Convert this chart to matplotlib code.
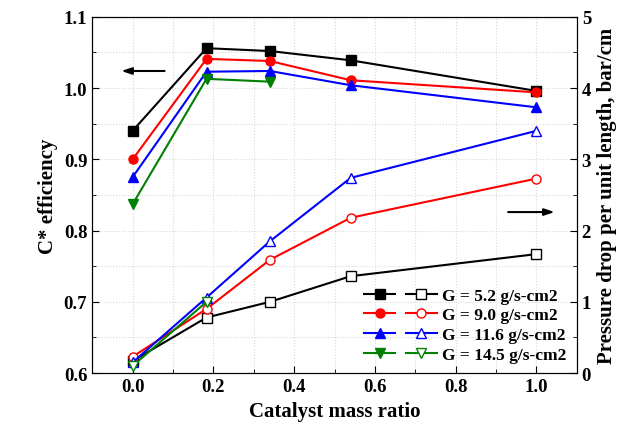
import matplotlib
matplotlib.use('Agg')
import matplotlib.pyplot as plt
from matplotlib.legend_handler import HandlerTuple
from matplotlib.ticker import MultipleLocator

plt.rcParams['font.family'] = 'Liberation Serif'
plt.rcParams['font.weight'] = 'bold'

# Catalyst mass ratio positions
x = [0.0, 0.183, 0.34, 0.54, 1.0]

# C* efficiency (left axis, filled markers)
eff_52 = [0.940, 1.056, 1.052, 1.039, 0.996]
eff_90 = [0.900, 1.041, 1.038, 1.011, 0.994]
eff_116 = [0.875, 1.023, 1.024, 1.004, 0.973]
eff_145 = [0.837, 1.013, 1.009]

# Pressure drop per unit length (right axis, open markers)
dp_52 = [0.17, 0.78, 1.00, 1.36, 1.67]
dp_90 = [0.23, 0.90, 1.59, 2.18, 2.73]
dp_116 = [0.15, 1.06, 1.85, 2.74, 3.40]
dp_145 = [0.10, 1.00]

labels = ['G = 5.2 g/s-cm2', 'G = 9.0 g/s-cm2', 'G = 11.6 g/s-cm2', 'G = 14.5 g/s-cm2']
colors = ['black', 'red', 'blue', 'green']
markers = ['s', 'o', '^', 'v']

fig = plt.figure(figsize=(6.36, 4.35), dpi=100)
ax = fig.add_axes([0.145, 0.140, 0.762, 0.819])
ax2 = ax.twinx()

eff = [eff_52, eff_90, eff_116, eff_145]
dp = [dp_52, dp_90, dp_116, dp_145]

handles = []
for e, d, c, m in zip(eff, dp, colors, markers):
    h1, = ax.plot(x[:len(e)], e, color=c, marker=m, ms=6.5, lw=1.5, zorder=3)
    h2, = ax2.plot(x[:len(d)], d, color=c, marker=m, ms=6.5, lw=1.5,
                   markerfacecolor='white', zorder=3)
    handles.append((h1, h2))

ax.set_xlim(-0.1, 1.1)
ax.set_ylim(0.6, 1.1)
ax2.set_ylim(0, 5)

ax.xaxis.set_major_locator(MultipleLocator(0.2))
ax.xaxis.set_minor_locator(MultipleLocator(0.1))
ax.yaxis.set_major_locator(MultipleLocator(0.1))
ax.yaxis.set_minor_locator(MultipleLocator(0.05))
ax2.yaxis.set_major_locator(MultipleLocator(1))
ax2.yaxis.set_minor_locator(MultipleLocator(0.5))

ax.xaxis.set_major_formatter(plt.FuncFormatter(lambda v, p: f'{v:.1f}'))
ax.yaxis.set_major_formatter(plt.FuncFormatter(lambda v, p: f'{v:.1f}'))

for a in (ax, ax2):
    a.tick_params(which='both', direction='in', labelsize=13.5)
    a.tick_params(which='major', length=5)
    a.tick_params(which='minor', length=3)
ax.tick_params(axis='x', which='both', top=False)
ax.tick_params(axis='y', which='both', right=False)

ax.grid(True, which='both', color='#d8d8d8', linestyle=':', lw=0.8)
ax.set_axisbelow(True)

ax.set_xlabel('Catalyst mass ratio', fontsize=15, fontweight='bold')
ax.set_ylabel('C* efficiency', fontsize=15, fontweight='bold')
ax2.set_ylabel('Pressure drop per unit length, bar/cm', fontsize=15, fontweight='bold')

# direction arrows
ax.annotate('', xy=(-0.035, 1.024), xytext=(0.086, 1.024),
            arrowprops=dict(arrowstyle='-|>,head_length=0.6,head_width=0.2',
                            color='black', lw=1.5))
ax2.annotate('', xy=(1.052, 2.26), xytext=(0.923, 2.26),
             arrowprops=dict(arrowstyle='-|>,head_length=0.6,head_width=0.2',
                             color='black', lw=1.5))

ax2.legend(handles, labels, handler_map={tuple: HandlerTuple(ndivide=None, pad=0.6)},
           loc='lower right', frameon=False, handlelength=4.2,
           handletextpad=0.3, labelspacing=0.2, borderaxespad=0.2,
           prop={'weight': 'bold', 'size': 12.5})

fig.savefig('out.png', dpi=100)
